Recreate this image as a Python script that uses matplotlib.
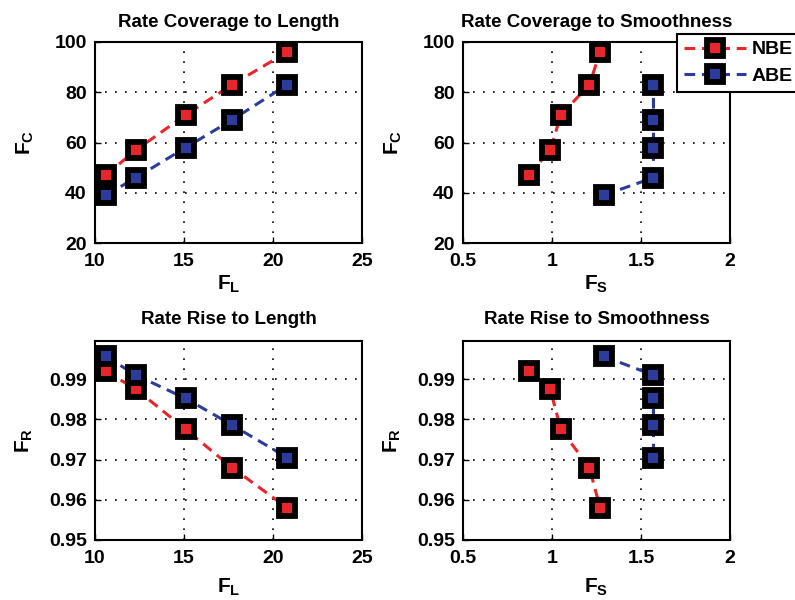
import numpy as np
import matplotlib
matplotlib.use('Agg')
import matplotlib.pyplot as plt

plt.rcParams['font.family'] = ['Liberation Sans', 'DejaVu Sans']
plt.rcParams['font.weight'] = 'bold'
plt.rcParams['mathtext.fontset'] = 'custom'
plt.rcParams['mathtext.bf'] = 'Liberation Sans:bold'
plt.rcParams['mathtext.rm'] = 'Liberation Sans:bold'

# data
FL_nbe = [10.6, 12.3, 15.1, 17.7, 20.8]
FL_abe = [10.6, 12.3, 15.1, 17.7, 20.8]
FS_nbe = [0.87, 0.99, 1.05, 1.21, 1.27]
FS_abe = [1.29, 1.57, 1.57, 1.57, 1.57]
FC_nbe = [47, 57, 71, 83, 96]
FC_abe = [39, 46, 58, 69, 83]
FR_nbe = [0.992, 0.9875, 0.9775, 0.968, 0.958]
FR_abe = [0.9957, 0.991, 0.9852, 0.9786, 0.9705]

rojo = '#e8252a'
azul = '#2c3b9c'

fig = plt.figure(figsize=(7.95, 6.0), dpi=100)

pos = {
    'tl': [95/795, 1-243/600, 267/795, 201/600],
    'tr': [463/795, 1-243/600, 267/795, 201/600],
    'bl': [95/795, 1-540/600, 267/795, 199/600],
    'br': [463/795, 1-540/600, 267/795, 199/600],
}

def dibujar(ax, x1, y1, x2, y2):
    l1, = ax.plot(x1, y1, color=rojo, ls=(0, (3.5, 2.2)), lw=2.2, marker='s', ms=11,
                  mfc=rojo, mec='black', mew=4.2, label='NBE')
    l2, = ax.plot(x2, y2, color=azul, ls=(0, (3.5, 2.2)), lw=2.2, marker='s', ms=11,
                  mfc=azul, mec='black', mew=4.2, label='ABE')
    ax.grid(True, color='black', ls=(0, (1, 5)), lw=1.2)
    ax.tick_params(direction='in', length=4, labelsize=14, width=1)
    ax.tick_params(axis='x', pad=7)
    ax.tick_params(axis='y', pad=6)
    for s in ax.spines.values():
        s.set_linewidth(1.5)
    return l1, l2

def negrita(ax):
    for t in ax.get_xticklabels() + ax.get_yticklabels():
        t.set_fontweight('bold')

ax1 = fig.add_axes(pos['tl'])
dibujar(ax1, FL_nbe, FC_nbe, FL_abe, FC_abe)
ax1.set_xlim(10, 25)
ax1.set_ylim(20, 100)
ax1.set_xticks([10, 15, 20, 25])
ax1.set_yticks([20, 40, 60, 80, 100])
negrita(ax1)
ax1.set_title('Rate Coverage to Length', fontsize=13.5, fontweight='bold', pad=11)
ax1.set_xlabel(r'$\mathbf{F_L}$', fontsize=15, labelpad=3)
ax1.set_ylabel(r'$\mathbf{F_C}$', fontsize=15, labelpad=13)

ax2 = fig.add_axes(pos['tr'])
h1, h2 = dibujar(ax2, FS_nbe, FC_nbe, FS_abe, FC_abe)
ax2.set_xlim(0.5, 2)
ax2.set_ylim(20, 100)
ax2.set_xticks([0.5, 1, 1.5, 2])
ax2.set_xticklabels(['0.5', '1', '1.5', '2'])
ax2.set_yticks([20, 40, 60, 80, 100])
negrita(ax2)
ax2.set_title('Rate Coverage to Smoothness', fontsize=13.5, fontweight='bold', pad=11)
ax2.set_xlabel(r'$\mathbf{F_S}$', fontsize=15, labelpad=3)
ax2.set_ylabel(r'$\mathbf{F_C}$', fontsize=15, labelpad=13)

ax3 = fig.add_axes(pos['bl'])
dibujar(ax3, FL_nbe, FR_nbe, FL_abe, FR_abe)
ax3.set_xlim(10, 25)
ax3.set_ylim(0.95, 0.9995)
ax3.set_xticks([10, 15, 20, 25])
ax3.set_yticks([0.95, 0.96, 0.97, 0.98, 0.99])
ax3.set_yticklabels(['0.95', '0.96', '0.97', '0.98', '0.99'])
negrita(ax3)
ax3.set_title('Rate Rise to Length', fontsize=13.5, fontweight='bold', pad=12)
ax3.set_xlabel(r'$\mathbf{F_L}$', fontsize=15, labelpad=7)
ax3.set_ylabel(r'$\mathbf{F_R}$', fontsize=15, labelpad=10)

ax4 = fig.add_axes(pos['br'])
dibujar(ax4, FS_nbe, FR_nbe, FS_abe, FR_abe)
ax4.set_xlim(0.5, 2)
ax4.set_ylim(0.95, 0.9995)
ax4.set_xticks([0.5, 1, 1.5, 2])
ax4.set_xticklabels(['0.5', '1', '1.5', '2'])
ax4.set_yticks([0.95, 0.96, 0.97, 0.98, 0.99])
ax4.set_yticklabels(['0.95', '0.96', '0.97', '0.98', '0.99'])
negrita(ax4)
ax4.set_title('Rate Rise to Smoothness', fontsize=13.5, fontweight='bold', pad=12)
ax4.set_xlabel(r'$\mathbf{F_S}$', fontsize=15, labelpad=7)
ax4.set_ylabel(r'$\mathbf{F_R}$', fontsize=15, labelpad=10)

# la leyenda sobresale del borde derecho como en el original, pero el texto queda dentro
leg = fig.legend([h1, h2], ['NBE', 'ABE'], loc='upper left',
                 bbox_to_anchor=(677/795, 1-34/600), bbox_transform=fig.transFigure,
                 numpoints=1, fancybox=False, framealpha=1, edgecolor='black',
                 prop={'weight': 'bold', 'size': 14}, handlelength=3.2,
                 borderpad=0.35, labelspacing=0.45, handletextpad=0.3, borderaxespad=0)
leg.get_frame().set_linewidth(1.5)

fig.savefig('out.png', dpi=100)
